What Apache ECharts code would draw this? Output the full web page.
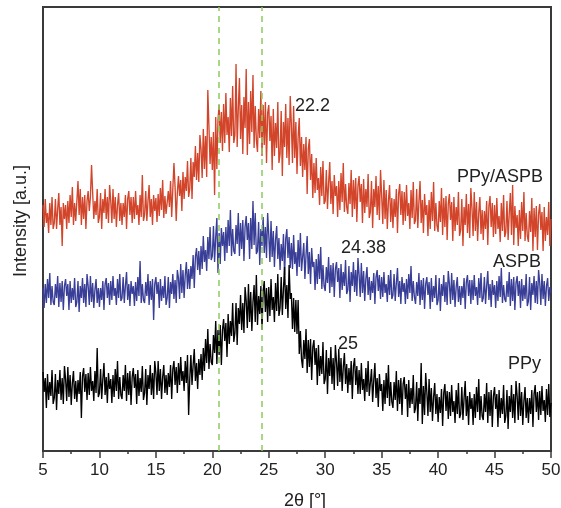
<!DOCTYPE html>
<html>
<head>
<meta charset="utf-8">
<script src="https://cdn.jsdelivr.net/npm/echarts@6/dist/echarts.min.js"></script>
<style>
html,body{margin:0;padding:0;background:#fff;}
#chart{width:561px;height:508px;}
</style>
</head>
<body>
<div id="chart"></div>
<script>
// 2θ sampling: from 5° to 50° every 0.1° (one row below = 1°)
const twoThetaStart = 5;
const twoThetaStep = 0.1;
const xTicks = [5, 10, 15, 20, 25, 30, 35, 40, 45, 50];
const seriesNames = ['PPy/ASPB', 'ASPB', 'PPy'];
const guideLines = [20.6, 24.4];
const peakLabels = ['22.2', '24.38', '25'];

// Intensities (a.u., vertically offset traces)
const ppyAspb = [
 246,224,252,228,238,218,248,226,254,222,
 228,252,222,242,258,226,244,205,248,232,
 246,222,250,228,256,234,264,226,248,230,
 228,270,236,262,226,254,232,256,222,250,
 260,240,254,286,258,232,250,236,262,228,
 234,258,222,252,238,262,232,254,228,266,
 250,228,262,232,254,224,246,258,230,248,
 226,248,234,256,222,252,260,236,254,228,
 254,232,260,236,246,226,256,234,276,230,
 236,260,230,250,266,234,252,226,256,240,
 253,229,257,235,263,241,271,233,255,237,
 236,260,244,270,234,262,288,264,230,258,
 275,255,271,240,279,252,274,260,290,254,
 262,293,252,289,274,305,271,298,269,316,
 302,273,322,282,315,274,361,324,287,314,
 281,319,256,334,282,331,346,308,339,300,
 347,308,358,316,334,299,353,315,365,308,
 316,387,304,342,373,312,346,297,354,323,
 382,296,349,307,360,319,376,303,345,311,
 299,342,313,360,295,346,306,349,288,338,
 346,310,335,281,342,295,328,303,349,288,
 297,340,275,329,304,347,293,333,286,355,
 327,288,345,293,329,277,314,333,285,314,
 274,307,281,314,257,302,312,271,297,253,
 288,258,293,261,273,246,284,255,290,247,
 250,281,242,268,289,247,270,237,276,255,
 265,234,270,241,278,249,288,239,267,244,
 237,268,247,281,234,271,242,273,229,265,
 275,249,267,228,272,238,262,244,277,233,
 239,270,223,262,244,275,236,265,231,281,
 255,227,271,232,261,222,250,266,229,253,
 223,252,234,262,218,257,267,236,260,226,
 259,230,266,235,248,222,261,233,269,227,
 231,262,223,249,270,228,251,218,257,236,
 246,215,251,222,259,230,269,220,248,225,
 219,250,229,263,216,253,224,255,211,247,
 257,231,249,210,254,220,244,226,259,215,
 221,252,205,244,226,257,218,247,213,263,
 243,215,259,220,249,210,238,254,217,241,
 211,240,222,250,206,245,255,224,248,214,
 246,217,253,222,235,209,248,220,256,214,
 219,250,211,237,258,216,266,206,245,223,
 236,205,241,212,249,220,259,210,238,215,
 209,240,219,253,200,243,214,245,201,237,
 247,221,239,200,244,210,234,216,249,205,
 232
];
const aspb = [
 163,143,167,148,172,153,178,146,165,149,
 146,167,153,175,144,168,149,170,141,165,
 172,155,167,141,170,148,163,151,173,144,
 149,170,139,165,153,173,148,167,144,177,
 165,146,175,149,168,143,161,172,148,163,
 144,163,151,170,141,167,173,153,168,146,
 170,151,175,155,163,146,172,153,177,150,
 153,174,148,165,179,151,167,145,170,157,
 165,145,169,150,174,155,190,148,167,151,
 148,169,155,177,146,170,151,172,131,167,
 174,157,169,143,172,150,165,153,175,146,
 153,174,143,169,157,177,152,171,148,181,
 173,152,187,158,181,153,176,189,162,182,
 162,185,172,196,163,194,203,181,200,176,
 205,182,215,189,201,180,214,192,224,191,
 195,225,189,214,233,178,218,187,223,205,
 219,190,224,198,231,205,241,195,222,200,
 197,226,207,238,195,228,202,231,190,224,
 235,211,228,192,233,202,250,206,238,197,
 200,229,186,222,205,234,198,224,193,238,
 216,189,230,194,220,184,211,225,192,213,
 181,207,190,217,176,212,222,193,214,183,
 208,182,216,187,199,175,211,184,218,180,
 179,208,172,196,215,177,199,167,203,184,
 189,161,192,167,197,172,204,162,186,165,
 160,184,168,194,158,186,164,188,154,182,
 189,169,183,153,187,161,179,165,191,157,
 161,185,149,179,165,189,159,181,155,193,
 176,154,188,158,180,150,172,184,156,174,
 151,170,158,178,147,174,181,160,176,152,
 174,154,179,158,167,149,176,156,181,152,
 156,177,150,168,183,154,170,147,174,159,
 168,147,172,152,177,158,185,150,170,154,
 147,169,155,178,146,171,151,173,142,167,
 174,156,169,142,173,149,165,153,176,146,
 151,173,140,167,155,176,149,169,146,180,
 167,147,178,151,171,144,164,174,149,165,
 146,165,153,173,142,169,176,155,171,147,
 171,151,176,155,164,146,173,153,178,149,
 153,174,147,165,180,151,167,144,171,156,
 166,143,170,150,175,154,183,148,166,152,
 149,170,154,179,145,172,150,174,141,168,
 175,155,170,143,172,150,166,152,177,145,
 150,174,141,168,156,175,148,170,147,181,
 168,146,177,152,170,145,165,173,150,164,
 158
];
const ppy = [
 79,59,73,43,77,51,69,55,81,47,
 53,77,41,71,57,81,51,73,47,85,
 72,50,84,54,76,46,68,80,52,70,
 49,71,57,79,33,75,83,59,77,51,
 78,56,84,60,70,50,80,58,103,54,
 58,82,52,72,88,56,74,48,78,62,
 72,48,76,54,82,60,90,52,74,56,
 52,76,60,86,50,78,56,80,46,74,
 83,63,77,47,81,55,73,59,85,51,
 58,82,46,76,62,86,56,78,52,90,
 78,56,90,60,82,52,74,86,58,76,
 56,78,64,86,52,82,90,66,84,58,
 88,66,94,70,80,60,90,68,96,36,
 72,96,66,86,102,70,88,62,92,76,
 97,71,103,80,112,88,122,82,107,89,
 86,116,98,130,87,121,96,126,86,121,
 132,110,128,94,137,107,130,115,148,109,
 118,148,106,143,127,156,121,148,118,164,
 150,123,167,129,159,120,149,166,129,176,
 126,155,137,165,121,160,170,139,163,129,
 164,135,172,141,154,129,168,140,177,135,
 143,174,136,162,184,142,166,133,186,152,
 158,122,153,119,151,117,151,97,120,92,
 83,111,92,122,78,111,84,112,71,104,
 111,86,103,66,106,75,95,77,109,67,
 72,101,57,93,75,104,67,93,61,106,
 89,65,102,69,93,60,84,98,67,87,
 58,83,66,90,52,85,93,66,85,57,
 81,57,88,61,72,50,83,59,90,55,
 55,82,49,71,88,53,73,44,77,60,
 67,40,71,47,78,53,86,45,69,49,
 43,69,51,80,40,71,47,73,36,67,
 74,52,67,34,71,43,63,47,76,38,
 43,69,30,63,47,88,27,65,36,78,
 59,35,72,39,63,30,54,68,37,57,
 29,54,38,62,25,58,67,40,60,32,
 59,35,66,39,50,28,61,37,68,33,
 37,64,31,53,70,35,55,26,59,42,
 53,26,57,33,64,39,72,31,55,35,
 31,57,39,68,28,59,35,61,24,55,
 64,42,57,24,61,33,53,37,66,28,
 35,61,22,55,39,66,33,57,28,70,
 55,31,68,35,59,26,50,64,33,53,
 28,53,37,61,24,57,66,39,59,31,
 60,36,65,40,51,29,62,36,67,34,
 48
];

function pairs(vals) {
  return vals.map((v, i) => [+(twoThetaStart + i * twoThetaStep).toFixed(2), v]);
}

const FONT = '"Liberation Sans", Arial, Helvetica, sans-serif';
const chart = echarts.init(document.getElementById('chart'), null, {renderer: 'canvas'});

const lineSeries = (name, vals, color) => ({
  name: name,
  type: 'line',
  data: pairs(vals),
  showSymbol: false,
  symbol: 'none',
  sampling: null,
  lineStyle: {color: color, width: 1.35},
  itemStyle: {color: color},
  z: 2
});

chart.setOption({
  animation: false,
  backgroundColor: '#ffffff',
  grid: {left: 43, right: 10, top: 7, bottom: 57, containLabel: false, outerBoundsMode: 'none',
         show: true, borderColor: '#3a3a3a', borderWidth: 2, backgroundColor: 'transparent'},
  xAxis: {
    type: 'value', min: xTicks[0], max: xTicks[xTicks.length - 1], interval: 5,
    name: '2θ [°]', nameLocation: 'middle', nameGap: 41,
    nameTextStyle: {fontFamily: FONT, fontSize: 18, color: '#222', padding: [0, 0, 0, 16]},
    axisLine: {show: true, lineStyle: {color: '#3a3a3a', width: 2}},
    axisTick: {show: true, inside: false, length: 7, lineStyle: {color: '#3a3a3a', width: 1.5}},
    minorTick: {show: true, splitNumber: 2, length: 3, lineStyle: {color: '#3a3a3a', width: 1.5}},
    axisLabel: {fontFamily: FONT, fontSize: 17, color: '#222', margin: 11},
    splitLine: {show: false}
  },
  yAxis: {
    type: 'value', min: 0, max: 444,
    name: 'Intensity [a.u.]', nameLocation: 'middle', nameGap: 13,
    nameTextStyle: {fontFamily: FONT, fontSize: 18, color: '#222', padding: [0, 0, 0, 16]},
    axisLine: {show: true, lineStyle: {color: '#3a3a3a', width: 2}},
    axisTick: {show: false},
    axisLabel: {show: false},
    splitLine: {show: false}
  },
  series: [
    lineSeries(seriesNames[0], ppyAspb, '#d2452a'),
    lineSeries(seriesNames[1], aspb, '#393e97'),
    lineSeries(seriesNames[2], ppy, '#000000'),
    {
      type: 'line', data: [], z: 5, silent: true,
      markLine: {
        symbol: 'none', silent: true, animation: false,
        label: {show: false},
        lineStyle: {color: '#8dcc5c', width: 1.5, type: [6, 5]},
        data: guideLines.map(x => ({xAxis: x}))
      }
    }
  ],
  graphic: [
    {type: 'text', left: 295, top: 97, style: {text: peakLabels[0], font: '18px ' + FONT, fill: '#222'}},
    {type: 'text', left: 341, top: 239, style: {text: peakLabels[1], font: '18px ' + FONT, fill: '#222'}},
    {type: 'text', left: 338, top: 335, style: {text: peakLabels[2], font: '18px ' + FONT, fill: '#222'}},
    {type: 'text', right: 18, top: 168, style: {text: seriesNames[0], font: '18px ' + FONT, fill: '#222'}},
    {type: 'text', right: 20, top: 253, style: {text: seriesNames[1], font: '18px ' + FONT, fill: '#222'}},
    {type: 'text', right: 20, top: 355, style: {text: seriesNames[2], font: '18px ' + FONT, fill: '#222'}}
  ]
});
</script>
</body>
</html>
